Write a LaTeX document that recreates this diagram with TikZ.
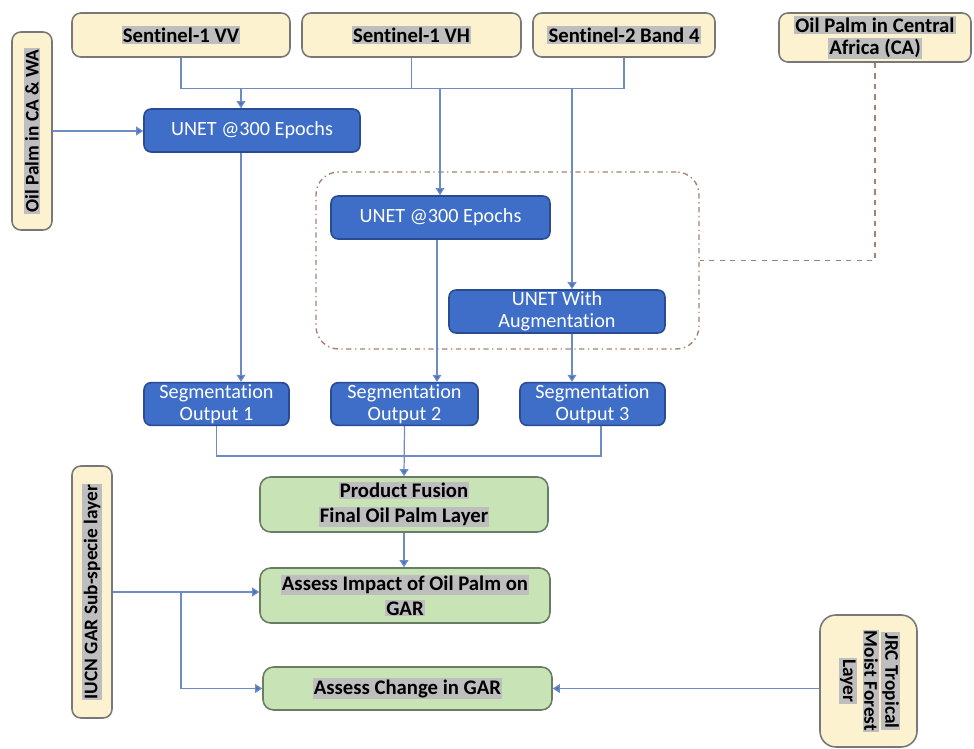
\documentclass[tikz,border=0pt]{standalone}
\usepackage{fontspec}
\setmainfont[Ligatures=NoCommon, RawFeature={-liga;-clig;-dlig}]{Carlito}
\usepackage{xcolor}
\usepackage{tikz}
\usetikzlibrary{arrows.meta, positioning, calc}
\definecolor{creamfill}{RGB}{253, 242, 208}
\definecolor{boxgray}{RGB}{120, 120, 120}
\definecolor{unetblue}{RGB}{62, 110, 200}
\definecolor{unetedge}{RGB}{40, 75, 145}
\definecolor{fusiongreen}{RGB}{200, 227, 182}
\definecolor{greenedge}{RGB}{105, 125, 100}
\definecolor{linkblue}{RGB}{110, 140, 195}
\definecolor{tipblue}{RGB}{68, 114, 196}
\definecolor{framebrown}{RGB}{165, 130, 115}
\definecolor{hlgray}{RGB}{190, 190, 190}
\newcommand{\hlt}[1]{{\setlength{\fboxsep}{0.7pt}\colorbox{hlgray}{#1}}}

\begin{document}
\begin{tikzpicture}[
    x=0.02cm, y=-0.02cm,
    inbox/.style={rectangle, rounded corners=5pt, draw=boxgray, fill=creamfill,
                  line width=0.9pt, minimum height=0.88cm, align=center,
                  font=\bfseries\fontsize{11.8}{12.5}\selectfont, inner sep=1pt},
    sidebox/.style={inbox, font=\bfseries\fontsize{11}{12}\selectfont},
    unet/.style={rectangle, rounded corners=4pt, draw=unetedge, fill=unetblue,
                 line width=0.9pt, minimum height=0.86cm, align=center, text=white,
                 font=\fontsize{11.5}{12.5}\selectfont, inner sep=1pt},
    gar/.style={rectangle, rounded corners=6pt, draw=greenedge, fill=fusiongreen,
                line width=0.9pt, minimum width=5.78cm, minimum height=1.1cm, align=center,
                font=\bfseries\fontsize{11.8}{14}\selectfont, inner sep=1pt},
    link/.style={draw=linkblue, line width=0.7pt},
    arrow/.style={link, -{Triangle[width=5pt,length=4pt,fill=tipblue]}}
]
    \useasboundingbox (0,0) rectangle (974,749);

    % Inputs
    \node[inbox, minimum width=4.36cm] (vv) at (181,35) {\hlt{Sentinel-1 VV}};
    \node[inbox, minimum width=4.38cm] (vh) at (411.5,35) {\hlt{Sentinel-1 VH}};
    \node[inbox, minimum width=3.64cm] (stwo) at (624,35) {\hlt{Sentinel-2 Band 4}};
    \node[inbox, minimum width=3.84cm, minimum height=0.98cm] (opca) at (875,37.5)
        {\hlt{Oil Palm in Central}\\\hlt{Africa (CA)}};
    \node[sidebox, minimum width=0.8cm, minimum height=3.96cm] (opwa) at (32,131)
        {\rotatebox{90}{\hlt{Oil Palm in CA \& WA}}};

    % Models
    \node[draw=framebrown, line width=0.8pt, dash dot, rounded corners=0.45cm,
          minimum width=7.66cm, minimum height=3.54cm] (frame) at (507.5,260.5) {};
    \node[unet, minimum width=4.32cm] (unetA) at (252,130.5) {UNET @300 Epochs};
    \node[unet, minimum width=4.38cm] (unetB) at (440.5,217.5) {UNET @300 Epochs};
    \node[unet, minimum width=4.32cm] (unetAug) at (557,311.5) {UNET With\\Augmentation};

    % Outputs
    \node[unet, minimum width=2.9cm, minimum height=0.84cm] (seg1) at (216.5,404) {Segmentation\\Output 1};
    \node[unet, minimum width=2.94cm, minimum height=0.84cm] (seg2) at (404.5,404) {Segmentation\\Output 2};
    \node[unet, minimum width=2.9cm, minimum height=0.84cm] (seg3) at (592.5,404) {Segmentation\\Output 3};

    % Fusion and assessment
    \node[gar, minimum width=5.76cm] (fusion) at (404,504.5) {\hlt{Product Fusion}\\\hlt{Final Oil Palm Layer}};
    \node[gar, minimum width=5.8cm] (impact) at (405,595.5) {\hlt{Assess Impact of Oil Palm on}\\\hlt{GAR}};
    \node[gar, minimum height=0.86cm] (change) at (407.5,688.5) {\hlt{Assess Change in GAR}};
    \node[sidebox, minimum width=0.8cm, minimum height=5.04cm] (iucn) at (92,592)
        {\rotatebox{90}{\hlt{IUCN GAR Sub-specie layer}}};
    \node[sidebox, minimum width=1.94cm, minimum height=2.64cm, rounded corners=9pt] (jrc) at (868.5,681)
        {\rotatebox{-90}{\begin{tabular}{@{}c@{}}\hlt{JRC Tropical}\\[0pt]\hlt{Moist Forest}\\[0pt]\hlt{Layer}\end{tabular}}};

    % Input bus
    \coordinate (tapA) at (241,88);
    \coordinate (tapB) at (440,88);
    \coordinate (tapC) at (572,88);
    \draw[link] (vv.south) -- ++(0,31) -| (stwo.south);
    \draw[link] (vh.south) -- (vh.south |- tapA);
    \draw[arrow] (tapA) -- (tapA |- unetA.north);
    \draw[arrow] (tapB) -- (tapB |- unetB.north);
    \draw[arrow] (tapC) -- (tapC |- unetAug.north);
    \draw[arrow] (opwa.east) -- (opwa.east -| unetA.west);

    % Models to outputs
    \draw[arrow] (unetA.south -| tapA) -- (seg1.north -| tapA);
    \draw[arrow] (unetB.south -| 437,0) -- (seg2.north -| 437,0);
    \draw[arrow] (unetAug.south -| tapC) -- (seg3.north -| tapC);
    \draw[framebrown, line width=0.8pt, dashed] (opca.south) |- (frame.east);

    % Outputs to fusion
    \draw[link] (seg1.south) -- ++(0,30) -| ($(seg3.south)+(8.5,0)$);
    \draw[arrow] (seg2.south) -- (fusion.north);
    \draw[arrow] (fusion.south) -- (fusion.south |- impact.north);

    % GAR layers
    \coordinate (split) at (181,592);
    \draw[arrow] (iucn.east |- split) -- (split -| impact.west);
    \draw[arrow] (split) |- (change.west);
    \draw[arrow] (jrc.west |- change.east) -- (change.east);
\end{tikzpicture}
\end{document}
